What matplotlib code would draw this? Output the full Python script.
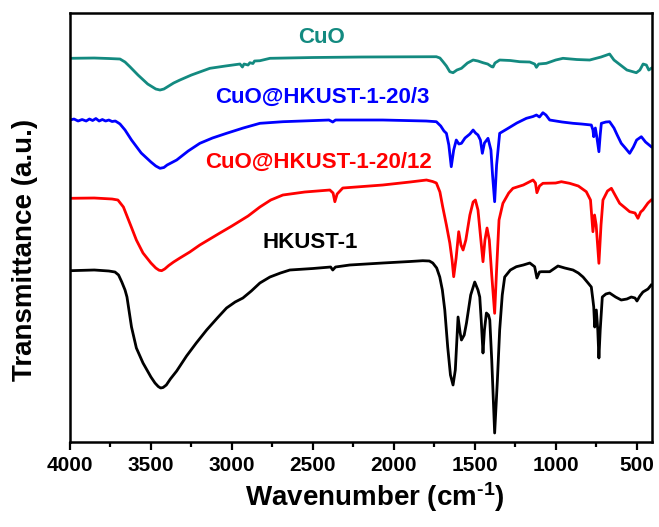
import numpy as np
import matplotlib
matplotlib.use('Agg')
import matplotlib.pyplot as plt
from matplotlib.ticker import MultipleLocator

plt.rcParams['font.family'] = ['Liberation Sans', 'DejaVu Sans']
plt.rcParams['font.weight'] = 'bold'
plt.rcParams['mathtext.fontset'] = 'custom'
plt.rcParams['mathtext.rm'] = 'Liberation Sans:bold'
plt.rcParams['mathtext.default'] = 'rm'

# FTIR spectra, wavenumber (cm-1) vs transmittance (a.u., curves offset)
wn_hkust = [4000, 3850, 3760, 3722, 3700, 3680, 3660, 3648, 3620, 3590, 3549, 3500, 3475, 3455,
            3440, 3425, 3405, 3380, 3341, 3280, 3220, 3156, 3090, 3033, 2980, 2932, 2880, 2827,
            2765, 2700, 2642, 2500, 2390, 2377, 2360, 2272, 2068, 1900, 1821, 1780, 1759, 1735,
            1716, 1700, 1685, 1667, 1650, 1634, 1620, 1603, 1590, 1582, 1565, 1551, 1525, 1500,
            1480, 1469, 1460, 1449, 1440, 1428, 1415, 1407, 1395, 1377, 1360, 1346, 1330, 1315,
            1280, 1243, 1200, 1160, 1130, 1116, 1100, 1088, 1037, 986, 944, 893, 860, 831, 800,
            780, 770, 765, 759, 749, 740, 733, 725, 712, 690, 667, 630, 595, 560, 533, 510, 498,
            480, 461, 430, 410]
t_hkust = [171.3, 172, 171, 170, 167, 160, 152, 145, 115, 94, 79, 65, 59, 55.5,
           54, 54.5, 57, 63, 71, 86, 99, 112, 124, 134, 140, 144, 151, 159,
           165, 169, 172, 173.5, 175, 172, 175, 177, 179, 180.5, 181.3, 181, 179, 174,
           165, 152, 132, 95, 67, 57, 72, 125, 109, 102, 107, 119, 147, 160,
           152, 145, 122, 89, 112, 129, 127, 122, 82, 9, 62, 112, 147, 165,
           172, 175.3, 177, 179, 175.3, 164, 170, 170.3, 170.3, 176, 174, 172, 169, 165, 159,
           155, 142, 135, 115, 132, 112, 84, 112, 145, 148, 149, 145, 142, 143, 145, 144, 141,
           146, 150, 153, 157]

wn_20_12 = [4000, 3850, 3740, 3704, 3670, 3620, 3590, 3549, 3500, 3470, 3450, 3434, 3415, 3390,
            3360, 3321, 3260, 3198, 3136, 3074, 3000, 2900, 2827, 2760, 2685, 2550, 2395, 2375,
            2364, 2350, 2315, 2068, 1900, 1798, 1760, 1737, 1715, 1698, 1675, 1654, 1640, 1630,
            1615, 1599, 1585, 1572, 1555, 1530, 1510, 1496, 1480, 1465, 1449, 1437, 1424, 1410,
            1395, 1377, 1365, 1350, 1326, 1290, 1264, 1200, 1140, 1125, 1116, 1100, 1079, 1000,
            965, 914, 860, 811, 785, 770, 760, 750, 733, 720, 708, 680, 656, 630, 605, 570, 543,
            510, 492, 475, 461, 430, 410]
t_20_12 = [243.7, 244, 243, 242, 235, 214.5, 202, 189, 179, 174, 171.8, 171.3, 173, 176.5,
           180, 184, 190, 197, 203, 209, 216, 226, 235, 242, 247, 250, 252, 249,
           240.3, 248, 254, 257, 260, 262, 260.5, 259, 250, 235.3, 217, 199, 182, 165.3,
           184, 210.3, 197, 192, 202, 227, 240, 242, 232, 207, 180.3, 202, 214, 202,
           167, 128.7, 172, 222, 238.7, 249, 253.7, 257, 262, 259, 249.3, 256, 258.7, 259,
           260.3, 258.7, 256, 250.3, 242, 210.3, 227, 217, 178.7, 217, 242, 251, 253.7, 246, 238.7, 234,
           230.3, 229, 223.7, 230, 232, 239, 242]

wn_20_3 = [4000, 3975, 3950, 3925, 3900, 3880, 3860, 3840, 3820, 3800, 3780, 3760, 3740, 3720,
           3700, 3691, 3660, 3620, 3560, 3500, 3470, 3444, 3420, 3400, 3341, 3270, 3198, 3120,
           3033, 2930, 2827, 2685, 2400, 2377, 2360, 2068, 1800, 1737, 1710, 1690, 1675, 1660,
           1645, 1630, 1614, 1598, 1582, 1560, 1530, 1510, 1495, 1480, 1465, 1453, 1440, 1418,
           1400, 1390, 1377, 1365, 1346, 1294, 1240, 1181, 1140, 1119, 1100, 1079, 1060, 1037,
           960, 893, 840, 780, 770, 765, 755, 745, 733, 725, 718, 690, 667, 640, 620, 595, 570,
           543, 520, 500, 471, 445, 410]
t_20_3 = [322, 323, 321, 322.5, 321, 323, 321.5, 323.5, 321, 322.5, 321, 322, 320.5, 321,
          319, 318, 312, 302, 289, 280, 276, 273.7, 274.5, 277, 282, 291, 298.7, 304,
          308.7, 314, 318.7, 320.3, 322, 320, 322, 322, 321, 320.3, 316, 311, 308.7, 297,
          275.3, 292, 302, 298, 298.7, 304, 308, 312, 309, 307, 302, 288.7, 299, 303.7,
          292, 267, 240.3, 277, 308.7, 313.7, 319, 323.7, 325.5, 327, 325, 329.3, 327, 322,
          320, 318.7, 318, 317, 312, 305.3, 314, 304, 290.3, 307, 318.7, 320, 320.3, 314, 307, 298.7, 294,
          288.7, 295, 302, 305.3, 300, 295.3]

wn_cuo = [4000, 3850, 3760, 3691, 3660, 3630, 3580, 3520, 3470, 3444, 3420, 3400, 3360, 3321,
          3250, 3136, 3040, 2950, 2935, 2925, 2900, 2889, 2870, 2860, 2827, 2765, 2500, 2200,
          1900, 1737, 1715, 1696, 1675, 1654, 1634, 1610, 1582, 1545, 1510, 1480, 1449, 1420,
          1395, 1387, 1375, 1346, 1280, 1222, 1160, 1130, 1119, 1105, 1058, 1000, 955, 870,
          790, 720, 667, 640, 600, 560, 502, 480, 460, 440, 425, 410]
t_cuo = [383.7, 384, 383.5, 383, 380, 375.3, 367, 358, 353, 352, 353, 355, 359, 362,
         367, 373.7, 376, 378, 375, 378, 377, 379.3, 378.5, 381, 381.3, 383.7, 384.5, 385,
         385.2, 385.3, 384, 380.3, 376, 370.3, 369.3, 372, 373.7, 379, 382, 381, 379.3, 378,
         375.3, 375, 379, 382, 381.5, 380.3, 380, 378, 374.7, 378, 378.7, 382, 383.7, 382.5,
         382, 385, 388, 382, 377, 372, 369.3, 372, 378, 377, 372, 373.7]

series = [
    ("HKUST-1", wn_hkust, t_hkust, "black", (2519, 200)),
    ("CuO@HKUST-1-20/12", wn_20_12, t_20_12, "#ff0000", (2463, 280)),
    ("CuO@HKUST-1-20/3", wn_20_3, t_20_3, "#0000ff", (2444, 345)),
    ("CuO", wn_cuo, t_cuo, "#138a80", (2444, 405)),
]

fig = plt.figure(figsize=(6.59, 5.27), dpi=100)
ax = fig.add_axes([0.1062, 0.1613, 0.8832, 0.814])

for name, wn, t, color, pos in series:
    ax.plot(wn, t, color=color, linewidth=2.0, solid_joinstyle='round')
    ax.text(pos[0], pos[1], name, color=color, fontsize=16, fontweight='bold',
            ha='center', va='center')

ax.set_xlim(4000, 405)
ax.set_ylim(0, 429)
ax.xaxis.set_major_locator(MultipleLocator(500))
ax.xaxis.set_minor_locator(MultipleLocator(250))
ax.set_yticks([])
ax.tick_params(axis='x', which='major', direction='out', length=6, width=1.6,
               labelsize=15, pad=4)
ax.tick_params(axis='x', which='minor', direction='out', length=3.5, width=1.6)
for lab in ax.get_xticklabels():
    lab.set_fontweight('bold')
for sp in ax.spines.values():
    sp.set_linewidth(1.8)

ax.set_xlabel("Wavenumber (cm$^{\\text{-1}}$)", fontsize=20, fontweight='bold')
ax.set_ylabel("Transmittance (a.u.)", fontsize=20, fontweight='bold')
ax.xaxis.label.set_va('center')
ax.yaxis.label.set_va('center')
ax.xaxis.set_label_coords(0.524, -0.128)
ax.yaxis.set_label_coords(-0.077, 0.447)

fig.savefig("out.png", dpi=100)
